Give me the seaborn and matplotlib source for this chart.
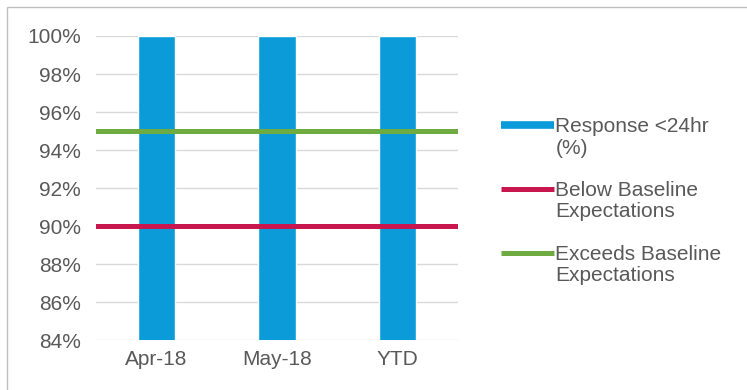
import matplotlib
matplotlib.use("Agg")
import matplotlib.pyplot as plt
from matplotlib.lines import Line2D
from matplotlib.patches import Rectangle
from matplotlib.ticker import PercentFormatter
from matplotlib.legend_handler import HandlerLine2D
import numpy as np
import seaborn as sns
import pandas as pd

# Monthly response rate and the baseline thresholds
periods = ["Apr-18", "May-18", "YTD"]
response_24hr = [1.00, 1.00, 1.00]
below_baseline = 0.90
exceeds_baseline = 0.95
y_ticks = [0.84, 0.86, 0.88, 0.90, 0.92, 0.94, 0.96, 0.98, 1.00]

bar_color = "#0A9BD8"
red_color = "#C8174F"
green_color = "#6EAB40"
text_color = "#595959"
font_size = 15

sns.set_theme(style="white")
plt.rcParams["font.family"] = ["Liberation Sans", "DejaVu Sans"]

df = pd.DataFrame({"period": periods, "rate": response_24hr})

fig = plt.figure(figsize=(7.47, 3.9), dpi=100)
ax = fig.add_axes([0.1285, 0.128, 0.4845, 0.7797])

sns.barplot(data=df, x="period", y="rate", color=bar_color, width=0.31,
            saturation=1, ax=ax, zorder=2)

ax.axhline(below_baseline, color=red_color, lw=3.6, zorder=3)
ax.axhline(exceeds_baseline, color=green_color, lw=3.6, zorder=3)

ax.set_xlim(-0.5, len(periods) - 0.5)
ax.set_ylim(y_ticks[0], y_ticks[-1])
ax.set_yticks(y_ticks)
ax.yaxis.set_major_formatter(PercentFormatter(1.0, decimals=0))
ax.grid(axis="y", color="#D9D9D9", lw=1.0, zorder=0)
ax.set_axisbelow(True)
for s in ax.spines.values():
    s.set_visible(False)
ax.set_xlabel("")
ax.set_ylabel("")
ax.tick_params(axis="y", length=0, pad=11, labelsize=font_size, labelcolor=text_color)
ax.tick_params(axis="x", length=0, pad=7, labelsize=font_size, labelcolor=text_color)


class FirstLineHandler(HandlerLine2D):
    """Place the legend line beside the first line of a two-line label."""

    def create_artists(self, legend, orig_handle, xdescent, ydescent,
                       width, height, fontsize, trans):
        artists = super().create_artists(legend, orig_handle, xdescent, ydescent,
                                         width, height, fontsize, trans)
        for a in artists:
            a.set_ydata(np.asarray(a.get_ydata()) + fontsize * 0.58)
        return artists


handles = [
    Line2D([], [], color=bar_color, lw=5.5, solid_capstyle="butt"),
    Line2D([], [], color=red_color, lw=3.6, solid_capstyle="butt"),
    Line2D([], [], color=green_color, lw=3.6, solid_capstyle="butt"),
]
labels = ["Response <24hr\n(%)", "Below Baseline\nExpectations",
          "Exceeds Baseline\nExpectations"]
leg = fig.legend(handles, labels, loc="upper left", bbox_to_anchor=(0.671, 0.70),
                 frameon=False, fontsize=font_size, handlelength=2.55,
                 handletextpad=0.05, labelspacing=1.12, borderaxespad=0,
                 borderpad=0, handler_map={Line2D: FirstLineHandler()})
for t in leg.get_texts():
    t.set_color(text_color)
    t.set_linespacing(1.17)

# Chart frame
fig.patches.append(Rectangle((7 / 747, -0.05), 1.2, 1 - 7 / 390 + 0.05,
                             transform=fig.transFigure, fill=False,
                             edgecolor="#BFBFBF", lw=1.0))

fig.savefig("out.png", dpi=100)
